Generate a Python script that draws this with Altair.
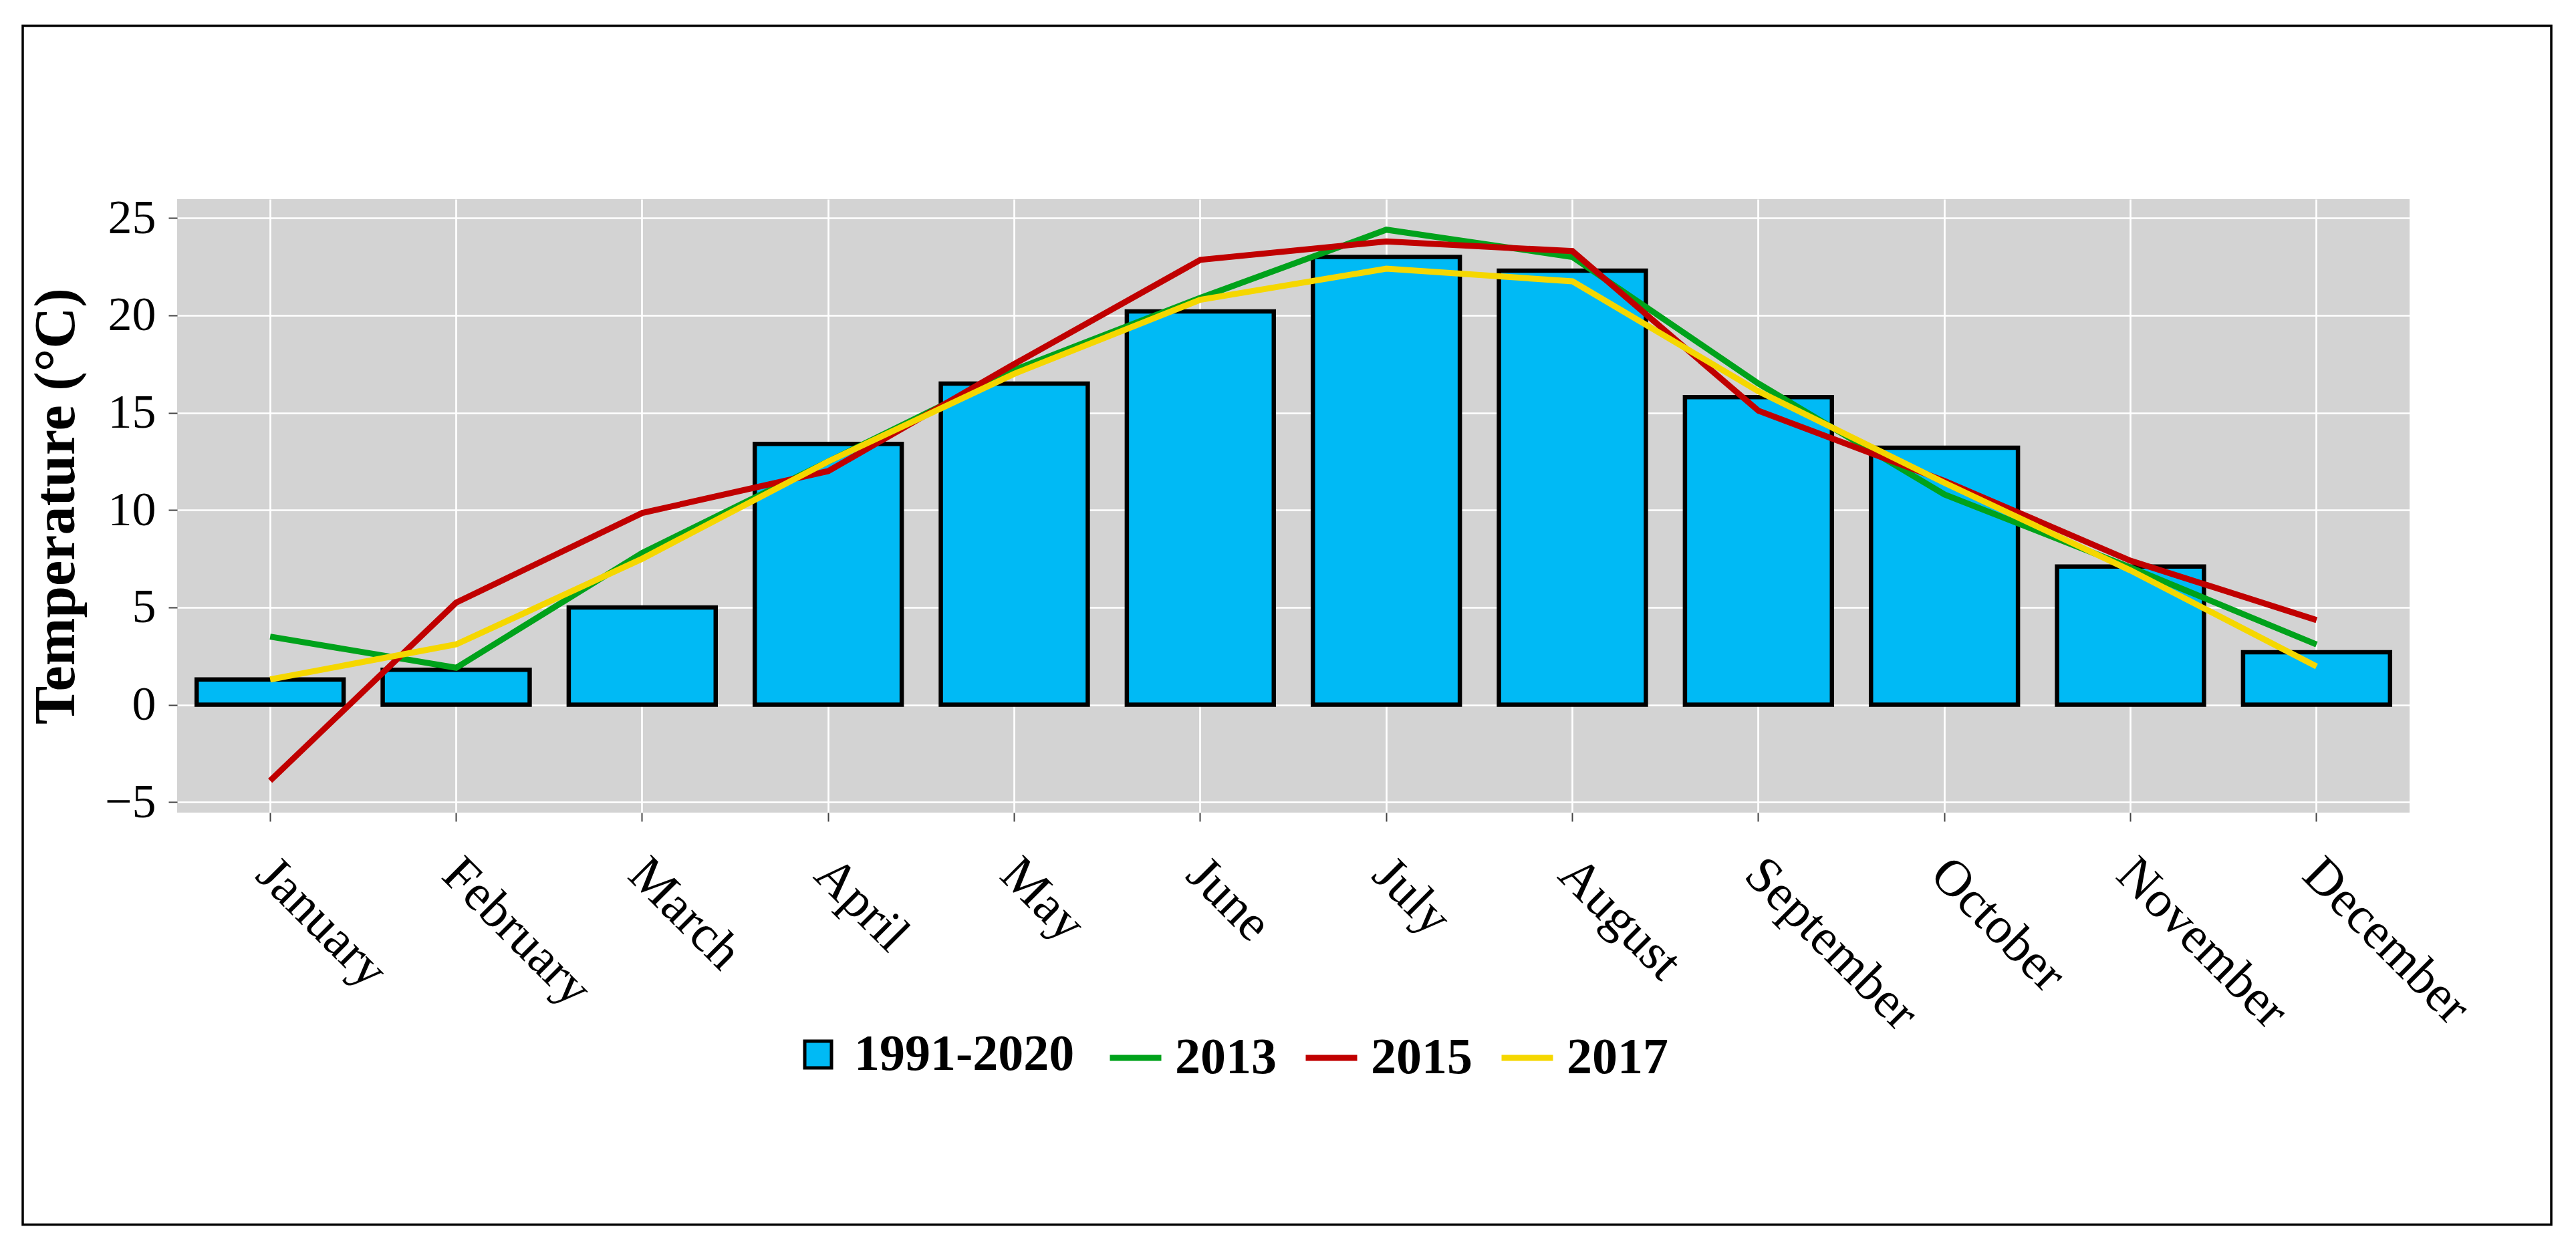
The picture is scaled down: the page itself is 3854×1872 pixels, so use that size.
import altair as alt
import pandas as pd

months = ["January", "February", "March", "April", "May", "June", "July",
          "August", "September", "October", "November", "December"]
normal_1991_2020 = [1.3, 1.8, 5.0, 13.4, 16.5, 20.2, 23.0, 22.3, 15.8, 13.2, 7.1, 2.7]
t2013 = [3.5, 1.9, 7.8, 12.5, 17.2, 20.9, 24.4, 23.0, 16.5, 10.8, 7.05, 3.1]
t2015 = [-3.9, 5.25, 9.85, 12.0, 17.5, 22.85, 23.8, 23.3, 15.1, 11.5, 7.4, 4.35]
t2017 = [1.3, 3.1, 7.5, 12.5, 17.0, 20.8, 22.4, 21.75, 16.1, 11.4, 6.9, 1.97]
series_names = ["2013", "2015", "2017"]
series_colors = ["#00A21B", "#C00000", "#F5D700"]
bar_name = "1991-2020"
bar_color = "#00BAF5"
y_ticks = [-5, 0, 5, 10, 15, 20, 25]

FONT = "Liberation Serif"

bars_df = pd.DataFrame({"month": months, "temp": normal_1991_2020, "period": bar_name})
rows = []
for name, vals in zip(series_names, [t2013, t2015, t2017]):
    for m, v in zip(months, vals):
        rows.append({"month": m, "temp": v, "series": name})
lines_df = pd.DataFrame(rows)

x_enc = alt.X(
    "month:N", sort=months,
    scale=alt.Scale(paddingInner=0.21, paddingOuter=0.105),
    axis=alt.Axis(title=None, labelAngle=45, labelAlign="left", labelBaseline="top",
                  labelPadding=40, labelOffset=19, labelFontSize=77, labelFont=FONT,
                  labelColor="black",
                  labelLimit=1000, labelOverlap=False, labelBound=False,
                  tickSize=13, tickWidth=2, tickColor="#444444", domain=False,
                  grid=True, gridColor="white", gridWidth=2.7),
)
y_enc = alt.Y(
    "temp:Q",
    scale=alt.Scale(domain=[-5.54, 25.97], nice=False, zero=False),
    axis=alt.Axis(values=y_ticks, title="Temperature (°C)", titleFont=FONT,
                  titleFontSize=86, titleFontWeight="bold", titleColor="black",
                  titleX=-137, titleY=459, titleAngle=270, titleBaseline="bottom",
                  titleAlign="center",
                  labelFontSize=72, labelFont=FONT, labelColor="black", labelPadding=19,
                  labelFlush=False, labelLimit=1000,
                  tickSize=13, tickWidth=2, tickColor="#444444", domain=False,
                  grid=True, gridColor="white", gridWidth=2.7),
)

bars = alt.Chart(bars_df).mark_bar(stroke="black", strokeWidth=6.5).encode(
    x=x_enc, y=y_enc,
    fill=alt.Fill("period:N", scale=alt.Scale(domain=[bar_name], range=[bar_color]),
                  legend=alt.Legend(orient="none", legendX=921, legendY=1242,
                                    direction="horizontal", title=None,
                                    labelFont=FONT, labelFontWeight="bold",
                                    labelFontSize=76, labelColor="black", labelLimit=0,
                                    symbolType="square", symbolSize=1600,
                                    symbolStrokeColor="black", symbolStrokeWidth=5,
                                    symbolFillColor=bar_color,
                                    labelOffset=16, padding=0)),
)

lines = alt.Chart(lines_df).mark_line(strokeWidth=9).encode(
    x=x_enc, y=y_enc,
    stroke=alt.Stroke("series:N", sort=series_names,
                      scale=alt.Scale(domain=series_names, range=series_colors),
                      legend=alt.Legend(orient="none", legendX=1391, legendY=1242,
                                        direction="horizontal", title=None,
                                        labelFont=FONT, labelFontWeight="bold",
                                        labelFontSize=76, labelColor="black", labelLimit=0,
                                        symbolType="stroke", symbolSize=5929,
                                        symbolStrokeWidth=9, labelOffset=16,
                                        columnPadding=25, padding=0)),
)

frame = alt.Chart(alt.Data(values=[{"a": 1}])).mark_rect(
    filled=False, stroke="black", strokeWidth=3.5, clip=False
).encode(x=alt.value(-231), x2=alt.value(3552), y=alt.value(-259.5), y2=alt.value(1534.5))

chart = alt.layer(bars, lines, frame).properties(
    width=3340, height=918,
    padding={"left": 257, "top": 290, "right": 233, "bottom": 642},
    autosize=alt.AutoSizeParams(type="none"),
    background="white",
).configure_view(fill="#D3D3D3", strokeWidth=0)

chart.save("out.html", embed_options={"renderer": "svg", "actions": False})
